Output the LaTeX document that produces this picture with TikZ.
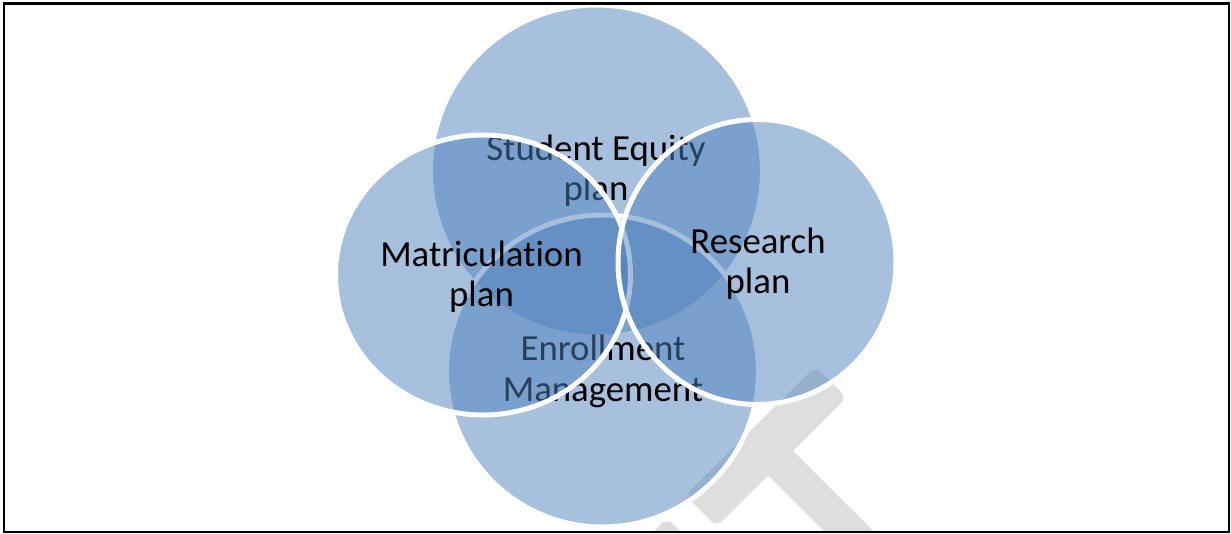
\documentclass[tikz,border=0pt]{standalone}
\usepackage{fontspec}
\setmainfont{Carlito}[Ligatures=NoCommon]
\definecolor{venn}{HTML}{4F81BD}
\definecolor{wm}{HTML}{DEDEDE}
\begin{document}
\begin{tikzpicture}[x=1pt,y=-1pt,
  vcircle/.style={fill=venn, fill opacity=0.5, draw=white, line width=5pt},
  lbl/.style={font=\fontsize{36.8}{40.4}\selectfont, anchor=base, inner sep=0pt, text=black},
  wmark/.style={fill=wm, rounded corners=8pt}]
\useasboundingbox (0,0) rectangle (1231,533);
% watermark
\begin{scope}
\clip (3.5,3) rectangle (1229,531.5);
\fill[wmark] (815.4,366.4) -- (846.6,397.6) -- (716.6,526.6) -- (685.4,495.4) -- cycle;
\fill[wm] (786.1,443.9) -- (761.4,468.6) -- (905.1,612.4) -- (929.9,587.6) -- cycle;
\fill[wmark] (667,518) -- (698,549) -- (598,649) -- (567,618) -- cycle;
\end{scope}
% top circle
\path[vcircle] (596.5,171) circle [radius=166];
\node[lbl] (se1) at (596,160) {Student Equity};
\node[lbl] (se2) at (596,200.4) {plan};
% bottom circle
\path[vcircle] (602.5,371) circle [radius=156];
\node[lbl] (em1) at (603,360.6) {Enrollment};
\node[lbl] (em2) at (603,401) {Management};
% left circle
\path[vcircle] (483,275) circle [x radius=147.5, y radius=140];
\node[lbl] (mp1) at (481.5,266) {Matriculation};
\node[lbl] (mp2) at (481.5,306.4) {plan};
% right circle
\path[vcircle] (757,262) circle [x radius=139, y radius=142.5];
\node[lbl] (rp1) at (758,253.3) {Research};
\node[lbl] (rp2) at (758,293.7) {plan};
% frame
\draw[line width=2pt] (3.5,3.5) rectangle (1229,531.5);
\draw[line width=3pt] (2.5,3) -- (1230,3);
\end{tikzpicture}
\end{document}
